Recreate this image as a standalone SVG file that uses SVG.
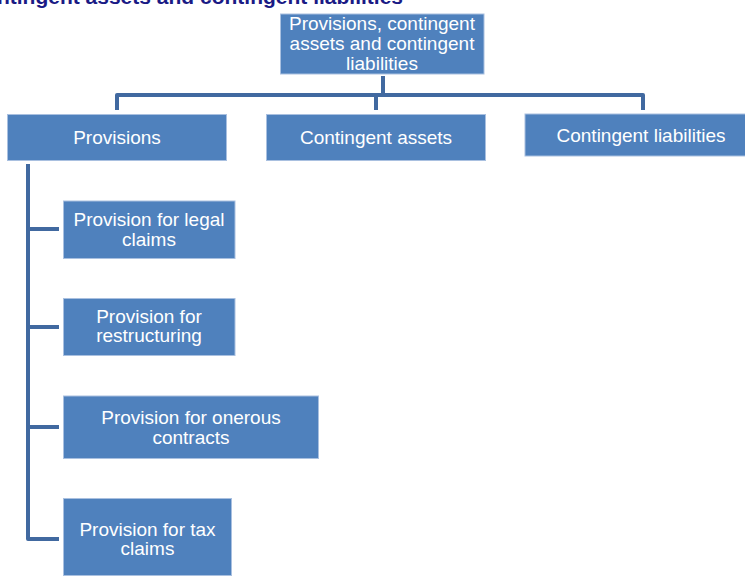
<svg xmlns="http://www.w3.org/2000/svg" width="745" height="576" viewBox="0 0 745 576">
<style>
.box{fill:#4F81BD;stroke:#A9C0E0;stroke-width:1}
.lbl{font-family:"Liberation Sans",Arial,sans-serif;font-size:19px;fill:#FFFFFF;text-anchor:middle}
.conn{fill:none;stroke:#4169A0;stroke-width:4;stroke-linejoin:round}
.title{font-family:"Liberation Sans",Arial,sans-serif;font-size:21px;font-weight:bold;fill:#1A1A85;text-anchor:end}
</style>
<rect width="745" height="576" fill="#FFFFFF"/>
<text class="title" x="403" y="4">ntingent assets and contingent liabilities</text>
<g id="connectors">
<path class="conn" d="M383,76 V95"/>
<path class="conn" d="M117,110 V95 H643 V110"/>
<path class="conn" d="M376,95 V110"/>
<path class="conn" d="M28,164 V539 H59"/>
<path class="conn" d="M28,229 H59"/>
<path class="conn" d="M28,327 H59"/>
<path class="conn" d="M28,427 H59"/>
</g>
<g id="root">
<rect class="box" x="280.5" y="14" width="203.5" height="60"/>
<text class="lbl" x="382" y="30">Provisions, contingent</text>
<text class="lbl" x="382" y="50">assets and contingent</text>
<text class="lbl" x="382" y="70">liabilities</text>
</g>
<g id="provisions">
<rect class="box" x="7.5" y="114.5" width="219" height="46"/>
<text class="lbl" x="117" y="144">Provisions</text>
</g>
<g id="contingent-assets">
<rect class="box" x="266.5" y="114.5" width="219" height="46"/>
<text class="lbl" x="376" y="143.5">Contingent assets</text>
</g>
<g id="contingent-liabilities">
<rect class="box" x="525" y="114" width="232" height="42"/>
<text class="lbl" x="641" y="142.3">Contingent liabilities</text>
</g>
<g id="legal-claims">
<rect class="box" x="63.5" y="201" width="171.5" height="57.5"/>
<text class="lbl" x="149" y="226">Provision for legal</text>
<text class="lbl" x="149" y="246">claims</text>
</g>
<g id="restructuring">
<rect class="box" x="63.5" y="298.5" width="171.5" height="57"/>
<text class="lbl" x="149" y="322.5">Provision for</text>
<text class="lbl" x="149" y="342">restructuring</text>
</g>
<g id="onerous-contracts">
<rect class="box" x="63.5" y="396" width="255" height="62.5"/>
<text class="lbl" x="191" y="424">Provision for onerous</text>
<text class="lbl" x="191" y="443.5">contracts</text>
</g>
<g id="tax-claims">
<rect class="box" x="63.5" y="498.5" width="168" height="77"/>
<text class="lbl" x="147.5" y="536">Provision for tax</text>
<text class="lbl" x="147.5" y="555">claims</text>
</g>
</svg>
